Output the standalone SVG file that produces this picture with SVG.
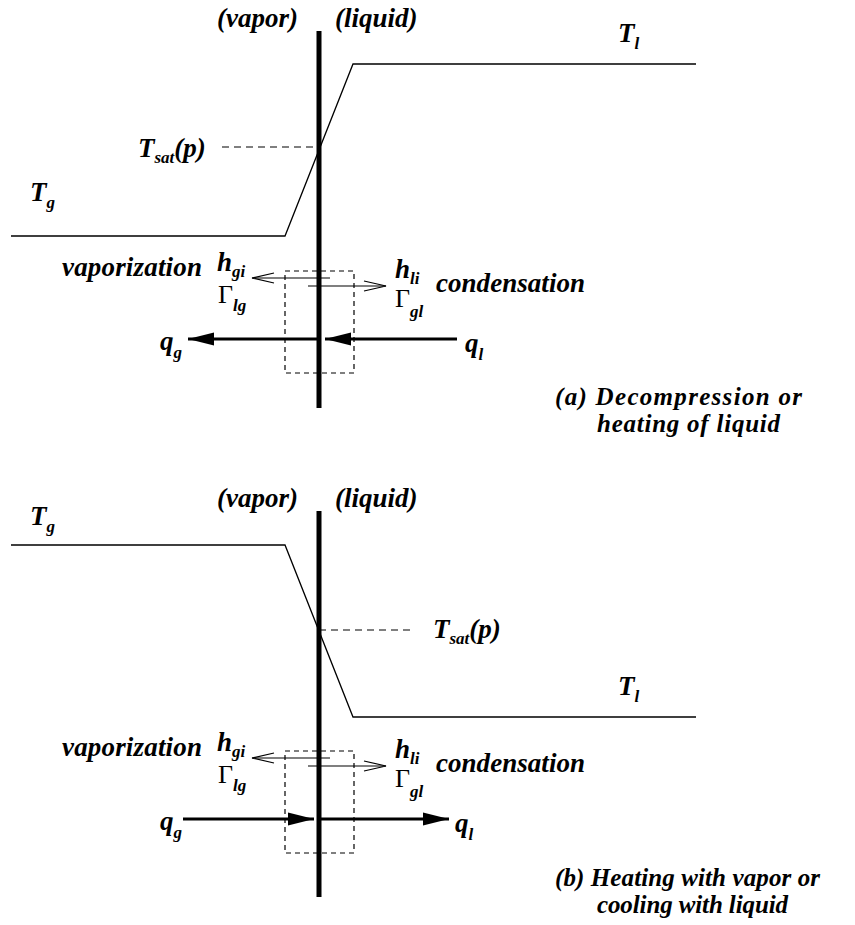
<svg xmlns="http://www.w3.org/2000/svg" width="855" height="925" viewBox="0 0 855 925">
<style>
.t{font-family:"Liberation Serif","Times New Roman",serif;font-weight:bold;font-style:italic;font-size:27px;fill:#000}
.s{font-size:17px}
.c{font-size:25px}
.g{font-family:"Liberation Serif","Times New Roman",serif;font-size:26px;fill:#000}
.bar{stroke:#000;stroke-width:5;fill:none}
.curve{stroke:#000;stroke-width:1.3;fill:none}
.dash{stroke:#000;stroke-width:1.2;fill:none;stroke-dasharray:7 5}
.box{stroke:#000;stroke-width:1.2;fill:none;stroke-dasharray:5 4}
.thin{stroke:#000;stroke-width:1.2;fill:none}
.thick{stroke:#000;stroke-width:3.2;fill:none}
</style>
<defs>
<marker id="open" markerUnits="userSpaceOnUse" markerWidth="26" markerHeight="14" refX="24" refY="6" orient="auto" viewBox="0 0 26 14">
<path d="M2,1 L24,6 L2,11" fill="none" stroke="#000" stroke-width="1.2"/>
</marker>
<marker id="fill" markerUnits="userSpaceOnUse" markerWidth="28" markerHeight="16" refX="26" refY="7" orient="auto" viewBox="0 0 28 16">
<path d="M0,0.5 L26,7 L0,13.5 Z" fill="#000"/>
</marker>
</defs>

<g id="panel-a">
<g id="interface-a"><line class="bar" x1="319" y1="31" x2="319" y2="408"/></g>
<g id="labels-a">
<text class="t" x="217" y="27">(vapor)</text>
<text class="t" x="335" y="27">(liquid)</text>
</g>
<g id="temperature-a">
<polyline class="curve" points="11,236 285,236 353,64 696,64"/>
<text class="t" x="30" y="201">T<tspan class="s" dy="7">g</tspan></text>
<text class="t" x="618" y="42">T<tspan class="s" dy="7">l</tspan></text>
<text class="t" x="138" y="157">T<tspan class="s" dy="6">sat</tspan><tspan dy="-6">(p)</tspan></text>
</g>
<g id="control-volume-a"><rect class="box" x="285" y="271" width="69" height="102"/></g>
<g id="vaporization-a">
<text class="t" x="62" y="276" textLength="140" lengthAdjust="spacing">vaporization</text>
<text class="t" x="217" y="271">h<tspan class="s" dy="6">gi</tspan></text>
<text class="g" x="218" y="303">Γ<tspan class="t s" dy="8">lg</tspan></text>
</g>
<g id="condensation-a">
<text class="t" x="436" y="292" textLength="149" lengthAdjust="spacing">condensation</text>
<text class="t" x="395" y="278">h<tspan class="s" dy="6">li</tspan></text>
<text class="g" x="395" y="307">Γ<tspan class="t s" dy="10">gl</tspan></text>
</g>
<g id="heat-a">
<text class="t" x="160" y="350">q<tspan class="s" dy="8">g</tspan></text>
<text class="t" x="465" y="352">q<tspan class="s" dy="8">l</tspan></text>
</g>
<g id="caption-a">
<text class="t c" x="555" y="405" textLength="247" lengthAdjust="spacing">(a) Decompression or</text>
<text class="t c" x="597" y="432" textLength="183" lengthAdjust="spacing">heating of liquid</text>
</g>
</g>

<g id="panel-b">
<g id="interface-b"><line class="bar" x1="319" y1="511" x2="319" y2="897"/></g>
<g id="labels-b">
<text class="t" x="217" y="507">(vapor)</text>
<text class="t" x="335" y="507">(liquid)</text>
</g>
<g id="temperature-b">
<polyline class="curve" points="11,545 285,545 353,717 696,717"/>
<text class="t" x="30" y="525">T<tspan class="s" dy="7">g</tspan></text>
<text class="t" x="618" y="695">T<tspan class="s" dy="7">l</tspan></text>
<text class="t" x="433" y="638">T<tspan class="s" dy="6">sat</tspan><tspan dy="-6">(p)</tspan></text>
</g>
<g id="control-volume-b"><rect class="box" x="285" y="751" width="69" height="102"/></g>
<g id="vaporization-b">
<text class="t" x="62" y="756" textLength="140" lengthAdjust="spacing">vaporization</text>
<text class="t" x="217" y="751">h<tspan class="s" dy="6">gi</tspan></text>
<text class="g" x="218" y="783">Γ<tspan class="t s" dy="8">lg</tspan></text>
</g>
<g id="condensation-b">
<text class="t" x="436" y="772" textLength="149" lengthAdjust="spacing">condensation</text>
<text class="t" x="395" y="758">h<tspan class="s" dy="6">li</tspan></text>
<text class="g" x="395" y="787">Γ<tspan class="t s" dy="10">gl</tspan></text>
</g>
<g id="heat-b">
<text class="t" x="160" y="830">q<tspan class="s" dy="8">g</tspan></text>
<text class="t" x="455" y="832">q<tspan class="s" dy="8">l</tspan></text>
</g>
<g id="caption-b">
<text class="t c" x="555" y="886" textLength="265" lengthAdjust="spacing">(b) Heating with vapor or</text>
<text class="t c" x="597" y="913" textLength="191" lengthAdjust="spacing">cooling with liquid</text>
</g>
</g>

<g id="connectors">
<line class="dash" x1="222" y1="147" x2="319" y2="147"/>
<line class="thin" x1="330" y1="278" x2="252" y2="278" marker-end="url(#open)"/>
<line class="thin" x1="308" y1="286" x2="386" y2="286" marker-end="url(#open)"/>
<line class="thick" x1="319" y1="339" x2="188" y2="339" marker-end="url(#fill)"/>
<line class="thick" x1="457" y1="339" x2="325" y2="339" marker-end="url(#fill)"/>
<line class="dash" x1="319" y1="630" x2="413" y2="630"/>
<line class="thin" x1="330" y1="758" x2="252" y2="758" marker-end="url(#open)"/>
<line class="thin" x1="308" y1="766" x2="386" y2="766" marker-end="url(#open)"/>
<line class="thick" x1="183" y1="819" x2="314" y2="819" marker-end="url(#fill)"/>
<line class="thick" x1="321" y1="819" x2="449" y2="819" marker-end="url(#fill)"/>
</g>
</svg>
